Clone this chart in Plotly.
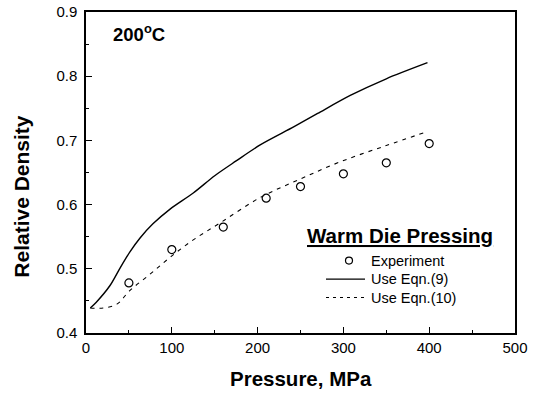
import plotly.graph_objects as go

exp_p = [50, 100, 160, 210, 250, 300, 350, 400]
exp_d = [0.478, 0.530, 0.565, 0.610, 0.628, 0.648, 0.665, 0.695]

eq9_p = [5, 12, 28, 40, 51, 63, 78, 98, 125, 150, 175, 203, 242, 270, 308, 350, 398]
eq9_d = [0.439, 0.448, 0.474, 0.502, 0.526, 0.548, 0.570, 0.593, 0.618, 0.645, 0.668,
         0.693, 0.721, 0.742, 0.770, 0.796, 0.821]

eq10_p = [5, 20, 36, 51, 75, 99, 125, 157, 203, 250, 297, 350, 394]
eq10_d = [0.439, 0.439, 0.445, 0.466, 0.492, 0.519, 0.545, 0.572, 0.611, 0.640, 0.667,
          0.692, 0.712]

legend_title = "Warm Die Pressing"
legend_labels = ["Experiment", "Use Eqn.(9)", "Use Eqn.(10)"]

FONT = "Liberation Sans, Arial, sans-serif"

# plot area in pixels (for paper-coordinate placement of decorations)
L, R, T, B = 86, 20, 12, 59.5
W, H = 535, 393
PW, PH = W - L - R, H - T - B


def px(xp):
    return (xp - L) / PW


def py(yp):
    return (H - B - yp) / PH


fig = go.Figure()
fig.add_trace(go.Scatter(x=exp_p, y=exp_d, mode="markers", name=legend_labels[0],
                         showlegend=False,
                         marker=dict(symbol="circle-open", size=8, color="black",
                                     line=dict(width=1.2, color="black"))))
fig.add_trace(go.Scatter(x=eq9_p, y=eq9_d, mode="lines", name=legend_labels[1],
                         showlegend=False,
                         line=dict(color="black", width=1.4, shape="spline", smoothing=0.8)))
fig.add_trace(go.Scatter(x=eq10_p, y=eq10_d, mode="lines", name=legend_labels[2],
                         showlegend=False,
                         line=dict(color="black", width=1.1, dash="4px,5px", shape="spline")))

axis_common = dict(showgrid=False, zeroline=False, showline=True, linecolor="black",
                   linewidth=1.5, mirror=True, ticks="inside", ticklen=6,
                   tickcolor="black", tickwidth=1.2, automargin=False,
                   tickfont=dict(family=FONT, size=15, color="black"),
                   minor=dict(ticks="inside", ticklen=3, tickcolor="black", tickwidth=1))

fig.update_xaxes(range=[0, 500], dtick=100, minor_dtick=50, **axis_common)
fig.update_yaxes(range=[0.4, 0.9], dtick=0.1, minor_dtick=0.05, tickformat=".1f",
                 ticklabelstandoff=4, **axis_common)

# axis titles
fig.add_annotation(text="<b>Pressure, MPa</b>", x=0.5, y=py(379.5), xref="paper", yref="paper",
                   xanchor="center", yanchor="middle", showarrow=False,
                   font=dict(family=FONT, size=20.5, color="black"))
fig.add_annotation(text="<b>Relative Density</b>", x=px(22), y=py(197), xref="paper", yref="paper",
                   xanchor="center", yanchor="middle", showarrow=False, textangle=-90,
                   font=dict(family=FONT, size=21, color="black"))

# temperature label
fig.add_annotation(text="<b>200<sup>o</sup>C</b>", x=px(111), y=py(33), xref="paper", yref="paper",
                   xanchor="left", yanchor="middle", showarrow=False,
                   font=dict(family=FONT, size=18.5, color="black"))

# manual legend
fig.add_annotation(text="<b><u>" + legend_title + "</u></b>", x=px(399.5), y=py(236),
                   xref="paper", yref="paper", xanchor="center", yanchor="middle",
                   showarrow=False, font=dict(family=FONT, size=20.5, color="black"))
row_y = [261, 279.5, 298]
for lab, yy in zip(legend_labels, row_y):
    fig.add_annotation(text=lab, x=px(369), y=py(yy), xref="paper", yref="paper",
                       xanchor="left", yanchor="middle", showarrow=False,
                       font=dict(family=FONT, size=14.5, color="black"))
fig.add_shape(type="circle", xref="paper", yref="paper", xsizemode="pixel", ysizemode="pixel",
              xanchor=px(349), yanchor=py(row_y[0]), x0=-3.5, x1=3.5, y0=-3.5, y1=3.5,
              line=dict(color="black", width=1.2))
fig.add_shape(type="line", xref="paper", yref="paper", x0=px(326), x1=px(365),
              y0=py(row_y[1]), y1=py(row_y[1]), line=dict(color="black", width=1.4))
fig.add_shape(type="line", xref="paper", yref="paper", x0=px(326), x1=px(365),
              y0=py(row_y[2]), y1=py(row_y[2]), line=dict(color="black", width=1.1, dash="3px,4px"))

fig.update_layout(
    width=W, height=H,
    margin=dict(l=L, r=R, t=T, b=B),
    paper_bgcolor="white", plot_bgcolor="white",
    showlegend=False,
)

fig.write_html("out.html", config={"displayModeBar": False},
               post_script="document.body.style.margin='0';")
